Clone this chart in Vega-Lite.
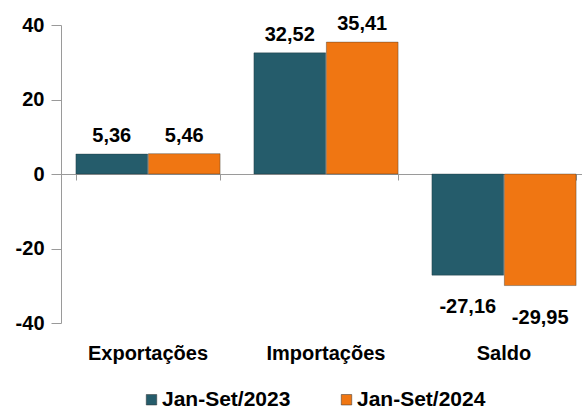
{
  "$schema": "https://vega.github.io/schema/vega-lite/v6.json",
  "width": 519,
  "height": 298,
  "autosize": "none",
  "padding": {"left": 61, "top": 25, "right": 2, "bottom": 88},
  "config": {
    "view": {"stroke": null},
    "font": "Liberation Sans",
    "locale": {"number": {"decimal": ",", "thousands": ".", "grouping": [3], "currency": ["", ""], "minus": "-"}}
  },
  "data": {
    "values": [
      {"category": "Exportações", "period": "Jan-Set/2023", "value": 5.36},
      {"category": "Exportações", "period": "Jan-Set/2024", "value": 5.46},
      {"category": "Importações", "period": "Jan-Set/2023", "value": 32.52},
      {"category": "Importações", "period": "Jan-Set/2024", "value": 35.41},
      {"category": "Saldo", "period": "Jan-Set/2023", "value": -27.16},
      {"category": "Saldo", "period": "Jan-Set/2024", "value": -29.95}
    ]
  },
  "resolve": {"axis": {"x": "independent"}},
  "layer": [
    {
      "mark": {"type": "bar", "stroke": "#1a2a30", "strokeOpacity": 0.35, "strokeWidth": 1},
      "encoding": {
        "x": {
          "field": "category", "type": "nominal",
          "sort": ["Exportações", "Importações", "Saldo"],
          "scale": {"range": [-2, 532], "paddingInner": 0.19, "paddingOuter": 0.095},
          "axis": {"orient": "bottom", "offset": -149, "labels": false, "title": null, "domainColor": "#9a9a9a", "tickColor": "#9a9a9a", "tickBand": "extent", "tickSize": 6}
        },
        "xOffset": {"field": "period", "type": "nominal", "scale": {"paddingInner": 0.01}},
        "y": {
          "field": "value", "type": "quantitative",
          "scale": {"domain": [-40, 40]},
          "axis": {"values": [-40, -20, 0, 20, 40], "grid": false, "title": null, "domainColor": "#9a9a9a", "tickColor": "#9a9a9a", "tickSize": 10, "labelPadding": 7, "labelFontSize": 20, "labelFontWeight": "bold", "labelColor": "#000000"}
        },
        "color": {
          "field": "period", "type": "nominal",
          "scale": {"range": ["#255c6b", "#f07612"]},
          "legend": {"orient": "none", "legendX": 80, "legendY": 364, "direction": "horizontal", "title": null, "symbolType": "square", "symbolSize": 110, "symbolStrokeColor": "#333333", "symbolStrokeWidth": 0.5, "labelFontSize": 21, "labelFontWeight": "bold", "labelColor": "#000000", "labelOffset": 0, "columnPadding": 45, "labelLimit": 300}
        }
      }
    },
    {
      "transform": [{"filter": "datum.value >= 0"}],
      "mark": {"type": "text", "baseline": "alphabetic", "dy": -12, "fontSize": 20, "fontWeight": "bold", "color": "#000000"},
      "encoding": {
        "x": {
          "field": "category", "type": "nominal",
          "sort": ["Exportações", "Importações", "Saldo"],
          "axis": {"orient": "bottom", "domain": false, "ticks": false, "labelPadding": 20, "labelFontSize": 20, "labelFontWeight": "bold", "labelColor": "#000000", "labelAngle": 0, "title": null}
        },
        "xOffset": {"field": "period", "type": "nominal"},
        "y": {"field": "value", "type": "quantitative"},
        "text": {"field": "value", "type": "quantitative", "format": ".2f"}
      }
    },
    {
      "transform": [{"filter": "datum.value < 0"}],
      "mark": {"type": "text", "baseline": "alphabetic", "dy": 38, "fontSize": 20, "fontWeight": "bold", "color": "#000000"},
      "encoding": {
        "x": {"field": "category", "type": "nominal", "sort": ["Exportações", "Importações", "Saldo"], "axis": null},
        "xOffset": {"field": "period", "type": "nominal"},
        "y": {"field": "value", "type": "quantitative"},
        "text": {"field": "value", "type": "quantitative", "format": ".2f"}
      }
    }
  ]
}
